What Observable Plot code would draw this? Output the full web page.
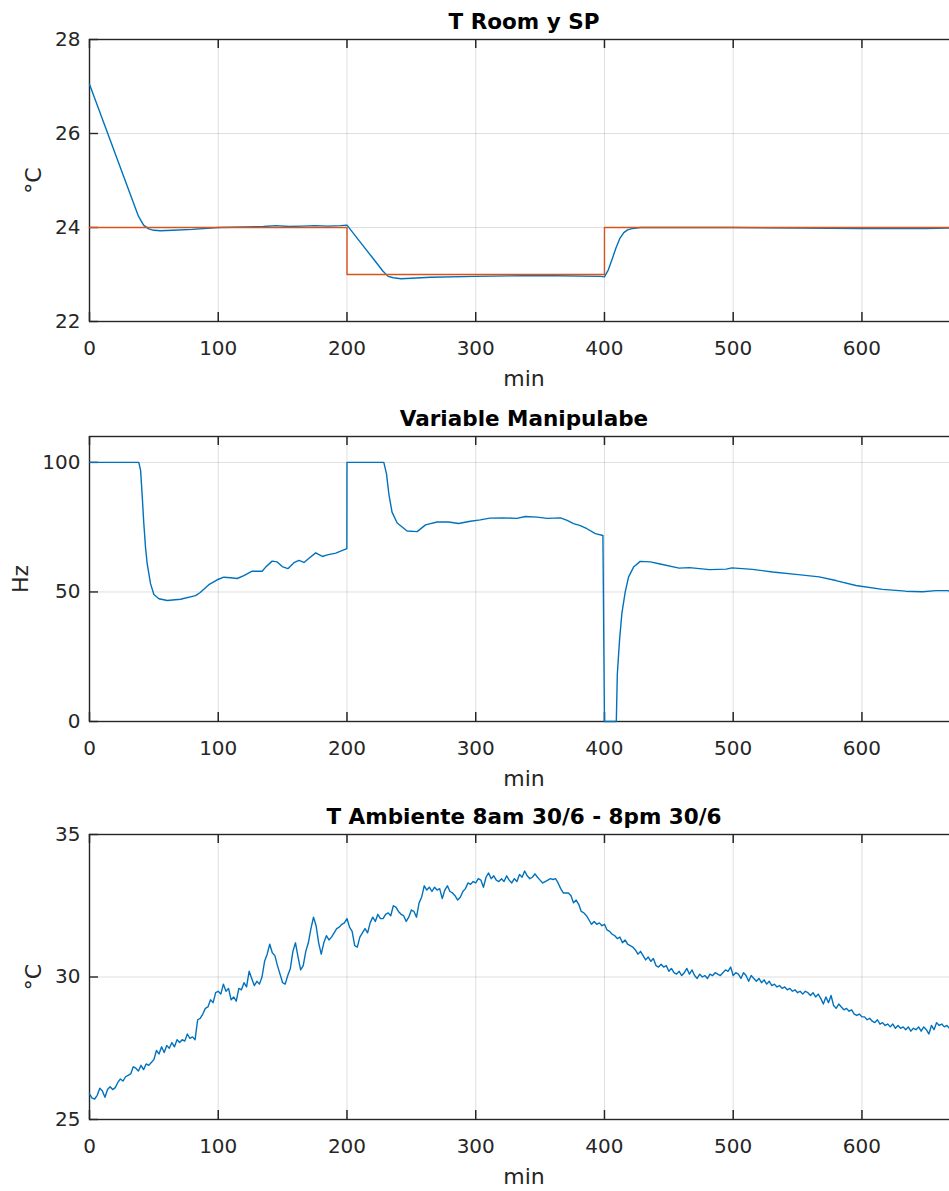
<!DOCTYPE html>
<html><head><meta charset="utf-8">
<script src="https://cdn.jsdelivr.net/npm/d3@7"></script>
<script src="https://cdn.jsdelivr.net/npm/@observablehq/plot@0.6"></script>
<style>
html,body{margin:0;padding:0;background:#fff;overflow:hidden;}
#chart{position:relative;width:949px;height:1191px;overflow:hidden;background:#fff;}
#chart svg{position:absolute;left:0;max-width:none !important;}
</style></head><body><div id="chart"></div>
<script>
// ---------- data ----------
const xTicks = [0, 100, 200, 300, 400, 500, 600];
const xDomain = [0, 675];

const titles = ["T Room y SP", "Variable Manipulabe", "T Ambiente 8am 30/6 - 8pm 30/6"];
const yLabels = ["°C", "Hz", "°C"];
const xLabel = "min";

// Panel 1: room temperature (blue) and set point (orange)
const roomTime = [0,10,20,30,38,42,46,50,55,65,80,100,120,135,145,155,165,175,185,195,200,210,220,228,232,236,242,250,265,300,350,397,400,403,406,409,412,415,418,422,428,440,500,550,600,650,675];
const roomValue = [27.05,26.31,25.57,24.83,24.24,24.05,23.97,23.94,23.93,23.94,23.96,24.0,24.01,24.02,24.04,24.02,24.03,24.04,24.03,24.04,24.05,23.7,23.35,23.07,22.96,22.93,22.91,22.92,22.94,22.96,22.98,22.96,22.95,23.1,23.33,23.57,23.77,23.89,23.95,23.98,24.0,24.0,24.0,23.99,23.98,23.98,23.99];
const spTime = [0, 200, 200, 400, 400, 675];
const spValue = [24, 24, 23, 23, 24, 24];
const roomTicks = [22, 24, 26, 28];

// Panel 2: manipulated variable (Hz)
const hzTime = [0,38.3,39.7,41,42.2,43.5,44.8,47.4,50,53.9,60.4,70.7,82.4,86,92.7,99.2,104.4,109.5,114.7,119.9,126.3,134.1,136.7,141.9,145.8,149.7,154.1,158.8,162.7,166.6,170.5,175.7,180.9,184.8,191.3,199.9,200,228.6,230.7,232.5,235,239,246.7,254.5,261,270,279,286.7,295.8,303.6,311,321.7,332,338.5,347.6,355.4,365.8,371,376,381.2,386.4,392.9,398.8,400,409.2,410,411.7,413.5,416.1,418.7,422.6,427.8,435.6,443.3,458,466,481.6,494.6,499,515,530.6,548.7,566.8,579.8,595.3,616,634,647,657.4,666.4,675];
const hzValue = [100,100,96.9,86.6,76.3,67.3,60.9,53.2,49.0,47.4,46.7,47.2,48.6,49.8,52.8,54.7,55.7,55.5,55.2,56.3,58.0,58.0,59.5,61.9,61.6,59.8,59.0,61.3,62.2,61.4,63.0,65.1,63.7,64.3,65.0,66.7,100,100,95.6,87.9,80.8,76.6,73.5,73.3,75.9,77.0,77.0,76.4,77.3,77.8,78.5,78.6,78.4,79.1,78.9,78.4,78.6,77.6,76.4,75.6,74.4,72.5,71.8,0,0,18.4,31.3,41.6,49.9,55.7,59.6,61.8,61.6,60.8,59.2,59.4,58.6,58.8,59.3,58.7,57.7,56.8,55.8,54.4,52.5,51.0,50.3,50.1,50.5,50.5,49.8];
const hzTicks = [0, 50, 100];

// Panel 3: ambient temperature, sampled every 2 min from 0 to 674
const ambStep = 2;
const ambValue = [
25.9,25.75,25.72,25.85,26.1,26.0,25.78,26.05,26.15,26.05,
26.12,26.3,26.42,26.35,26.5,26.55,26.6,26.85,26.8,26.7,
26.9,26.75,26.95,26.9,27.0,27.1,27.42,27.3,27.55,27.35,
27.6,27.5,27.7,27.55,27.8,27.7,27.8,27.75,28.0,27.85,
27.9,27.8,28.5,28.55,28.7,28.9,28.95,29.2,29.1,29.45,
29.5,29.4,29.75,29.5,29.6,29.2,29.3,29.15,29.6,29.55,
29.8,29.65,30.2,29.95,29.7,29.85,29.75,30.0,30.55,30.8,
31.15,30.85,30.75,30.4,30.1,29.8,29.75,30.05,30.3,30.9,
31.2,30.7,30.25,30.4,30.9,31.2,31.7,32.1,31.8,31.2,
30.8,31.2,31.45,31.3,31.4,31.55,31.7,31.75,31.85,31.9,
32.05,31.75,31.6,31.1,31.05,31.4,31.55,31.7,31.55,31.9,
32.1,31.95,32.2,32.05,32.05,32.2,32.25,32.15,32.5,32.45,
32.3,32.2,32.15,31.95,32.1,32.35,32.3,32.1,32.6,32.8,
33.2,33.05,33.15,33.0,33.15,33.05,33.1,32.75,33.05,33.2,
33.0,32.95,32.85,32.7,32.8,33.0,33.1,33.3,33.25,33.35,
33.3,33.45,33.4,33.15,33.5,33.65,33.45,33.55,33.4,33.35,
33.45,33.35,33.55,33.4,33.3,33.45,33.35,33.6,33.5,33.72,
33.55,33.45,33.5,33.62,33.5,33.4,33.3,33.35,33.4,33.45,
33.42,33.45,33.3,33.1,32.95,32.95,32.95,32.85,32.6,32.7,
32.55,32.3,32.25,32.15,32.0,31.85,31.95,31.85,31.9,31.8,
31.85,31.65,31.6,31.5,31.45,31.35,31.4,31.2,31.3,31.15,
31.1,31.05,30.95,30.8,30.9,30.75,30.6,30.7,30.55,30.65,
30.4,30.35,30.45,30.35,30.4,30.2,30.3,30.15,30.1,30.2,
30.05,30.15,30.3,30.1,30.25,30.05,29.95,30.1,30.0,30.05,
29.95,30.1,30.05,30.15,30.1,30.05,30.15,30.25,30.2,30.35,
30.05,30.15,30.1,29.95,30.15,30.05,29.85,30.05,29.95,29.85,
29.95,29.8,29.9,29.75,29.85,29.7,29.75,29.65,29.7,29.6,
29.65,29.55,29.6,29.5,29.55,29.45,29.5,29.4,29.5,29.45,
29.35,29.45,29.3,29.4,29.25,29.05,29.3,29.1,29.35,29.0,
28.9,29.05,28.95,28.85,28.9,28.8,28.85,28.7,28.65,28.7,
28.6,28.6,28.5,28.55,28.45,28.4,28.5,28.35,28.4,28.3,
28.35,28.25,28.35,28.2,28.3,28.2,28.25,28.15,28.25,28.1,
28.2,28.15,28.25,28.1,28.25,28.15,28.0,28.3,28.15,28.4,
28.3,28.35,28.25,28.3,28.2,28.3,28.15,28.2
];
const ambTicks = [25, 30, 35];

// ---------- rendering ----------
const BLUE = "#0072BD", ORANGE = "#D95319", AX = "#262626";
const W = 970, ML = 89, MR = 12, H = 397, TICK = 9;
const FONT = "DejaVu Sans";

const rows = (ts, vs) => ts.map((t, i) => ({t, v: vs[i]}));
const roomData = rows(roomTime, roomValue);
const spData = rows(spTime, spValue);
const hzData = rows(hzTime, hzValue);
const ambData = ambValue.map((v, i) => ({t: i * ambStep, v}));

function panel({title, yLabel, yLabelDx, yDomain, yTicks, series, top, marginTop, marginBottom}) {
  const innerH = H - marginTop - marginBottom;
  const innerW = W - ML - MR;
  const svg = Plot.plot({
    width: W, height: H,
    marginLeft: ML, marginRight: MR, marginTop, marginBottom,
    style: {fontFamily: FONT, fontSize: "20px", color: AX, background: "white", overflow: "visible", maxWidth: "none"},
    x: {domain: xDomain},
    y: {domain: yDomain},
    marks: [
      Plot.gridX(xTicks, {stroke: AX, strokeOpacity: 0.15, strokeWidth: 1}),
      Plot.gridY(yTicks, {stroke: AX, strokeOpacity: 0.15, strokeWidth: 1}),
      Plot.frame({stroke: AX, strokeWidth: 1.4}),
      Plot.tickX(xTicks, {x: d => d, insetTop: innerH - TICK, stroke: AX, strokeWidth: 1.5}),
      Plot.tickX(xTicks, {x: d => d, insetBottom: innerH - TICK, stroke: AX, strokeWidth: 1.5}),
      Plot.tickY(yTicks, {y: d => d, insetRight: innerW - TICK, stroke: AX, strokeWidth: 1.4}),
      Plot.tickY(yTicks, {y: d => d, insetLeft: innerW - TICK, stroke: AX, strokeWidth: 1.4}),
      Plot.axisX(xTicks, {anchor: "bottom", tickSize: 0, tickPadding: 19, label: null, fontSize: 20, fill: AX}),
      Plot.axisY(yTicks, {anchor: "left", tickSize: 0, tickPadding: 9, label: null, fontSize: 20, fill: AX}),
      ...series.map(s => Plot.line(s.data, {x: "t", y: "v", stroke: s.color, strokeWidth: 1.4, strokeLinejoin: "round"})),
      Plot.text([title], {frameAnchor: "top", dy: -11, lineAnchor: "bottom", textAnchor: "middle", fontWeight: "bold", fontSize: 21.5, fill: "black"}),
      Plot.text([xLabel], {frameAnchor: "bottom", dy: 57, lineAnchor: "middle", textAnchor: "middle", fontSize: 22, fill: AX}),
      Plot.text([yLabel], {frameAnchor: "left", dx: yLabelDx, rotate: -90, lineAnchor: "middle", textAnchor: "middle", fontSize: 22, fill: AX})
    ]
  });
  svg.style.top = top + "px";
  svg.style.maxWidth = "none";
  svg.style.width = W + "px";
  svg.style.height = H + "px";
  document.getElementById("chart").appendChild(svg);
}

panel({title: titles[0], yLabel: yLabels[0], yLabelDx: -56, yDomain: [22, 28], yTicks: roomTicks,
  series: [{data: roomData, color: BLUE}, {data: spData, color: ORANGE}],
  top: 0, marginTop: 39, marginBottom: 76});
panel({title: titles[1], yLabel: yLabels[1], yLabelDx: -69, yDomain: [0, 110], yTicks: hzTicks,
  series: [{data: hzData, color: BLUE}],
  top: 397, marginTop: 39, marginBottom: 73});
panel({title: titles[2], yLabel: yLabels[2], yLabelDx: -56, yDomain: [25, 35], yTicks: ambTicks,
  series: [{data: ambData, color: BLUE}],
  top: 794, marginTop: 40, marginBottom: 72});
</script></body></html>
